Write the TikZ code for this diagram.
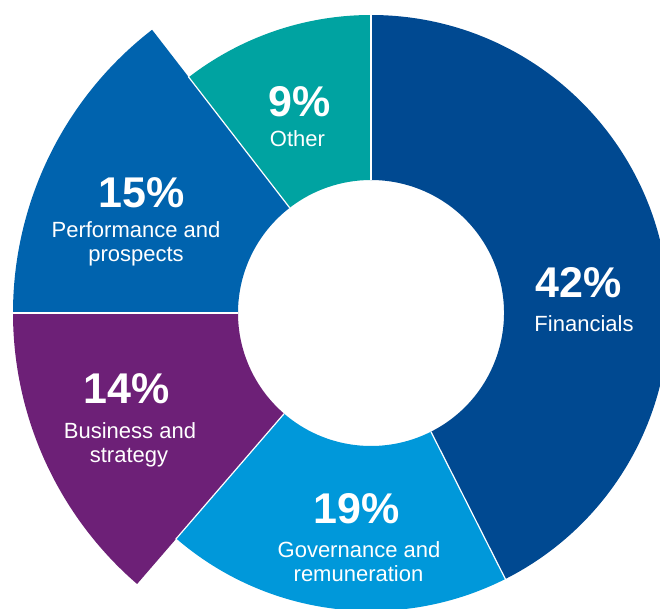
\documentclass[tikz,border=0pt]{standalone}
\usepackage{fontspec}
\setmainfont{Liberation Sans}
\definecolor{finblue}{RGB}{0,73,145}
\definecolor{govblue}{RGB}{0,152,218}
\definecolor{buspurple}{RGB}{109,32,119}
\definecolor{perfblue}{RGB}{0,99,174}
\definecolor{otherteal}{RGB}{0,163,161}
\newcommand\donutseg[4]{\fill[#1] (#2:133) arc[start angle=#2,end angle=#3,radius=133] -- (#3:#4) arc[start angle=#3,end angle=#2,radius=#4] -- cycle;}
\begin{document}
\begin{tikzpicture}[x=1pt,y=1pt,
  pct/.style={text=white,font=\bfseries\fontsize{43}{43}\selectfont,anchor=base,inner sep=0pt},
  lbl/.style={text=white,font=\fontsize{22}{24}\selectfont,anchor=base,inner sep=0pt},
  sepline/.style={draw=white,line width=1.2pt}]
\clip (-371,-295) rectangle (289,313);
\fill[white] (-371,-295) rectangle (289,313);
% segments
\donutseg{finblue}{-63.2}{90}{298}
\donutseg{govblue}{-130.8}{-63.2}{298}
\donutseg{buspurple}{-180}{-130.8}{358}
\donutseg{perfblue}{127.7}{180}{358}
\donutseg{otherteal}{90}{127.7}{298}
% separators
\draw[sepline] (90:133) -- (90:299);
\draw[sepline] (-63.2:133) -- (-63.2:299);
\draw[sepline] (-130.8:133) -- (-130.8:299);
\draw[sepline] (180:133) -- (180:359);
\draw[sepline] (127.7:133) -- (127.7:299);
% labels
\node[pct] (otherpct) at (-71,196) {9\%};
\node[lbl] (otherlbl) at (-73.5,167) {Other};
\node[pct] (perfpct) at (-229.5,106) {15\%};
\node[lbl] (perflbla) at (-235,76) {Performance and};
\node[lbl] (perflblb) at (-235,51.5) {prospects};
\node[pct] (finpct) at (208,16) {42\%};
\node[lbl] (finlbl) at (213,-18) {Financials};
\node[pct] (buspct) at (-244.5,-90) {14\%};
\node[lbl] (buslbla) at (-241,-125) {Business and};
\node[lbl] (buslblb) at (-242,-149.5) {strategy};
\node[pct] (govpct) at (-14.5,-210) {19\%};
\node[lbl] (govlbla) at (-12,-244) {Governance and};
\node[lbl] (govlblb) at (-12.5,-268) {remuneration};
\end{tikzpicture}
\end{document}
